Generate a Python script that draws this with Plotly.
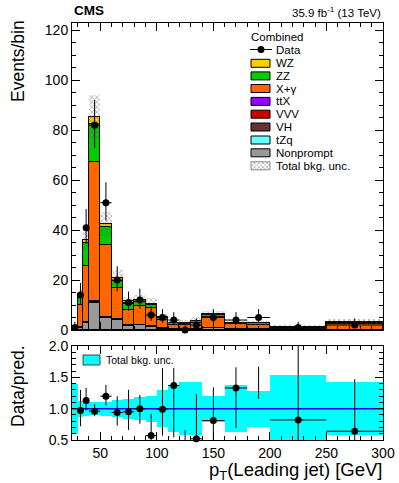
import math
import plotly.graph_objects as go

# ---------------- data ----------------
bin_edges = [25, 30, 35, 40, 50, 60, 70, 80, 90, 100, 110, 120, 130, 140, 160, 180, 200, 250, 300]
data_counts = [1, 14, 41, 82, 51, 20, 11, 12, 6, 5, 4, 0, 2, 5, 4, 5, 1, 2]

nonprompt = [0.1, 1.0, 3.0, 11.0, 5.0, 4.0, 1.8, 2.0, 1.3, 0.5, 0.3, 0.5, 0.3, 0.7, 0.3, 0.2, 0.1, 0.1]
tzq = [0.0, 0.02, 0.05, 0.1, 0.08, 0.05, 0.03, 0.03, 0.03, 0.02, 0.02, 0.02, 0.02, 0.03, 0.02, 0.02, 0.02, 0.02]
vh = [0.0, 0.05, 0.1, 0.2, 0.1, 0.08, 0.05, 0.05, 0.04, 0.03, 0.02, 0.02, 0.02, 0.03, 0.02, 0.02, 0.02, 0.02]
vvv = [0.0, 0.02, 0.05, 0.1, 0.08, 0.05, 0.03, 0.03, 0.03, 0.02, 0.02, 0.02, 0.02, 0.03, 0.02, 0.02, 0.02, 0.02]
ttx = [0.0, 0.05, 0.1, 0.2, 0.15, 0.1, 0.05, 0.05, 0.05, 0.05, 0.03, 0.03, 0.03, 0.05, 0.03, 0.03, 0.03, 0.03]
xgamma = [0.2, 8.9, 22.4, 55.7, 28.6, 12.5, 6.0, 7.3, 7.4, 3.4, 1.8, 1.6, 2.6, 4.5, 2.1, 1.7, 0.05, 2.4]
zz = [0.08, 3.5, 9.3, 15.4, 7.3, 3.0, 2.6, 1.9, 1.1, 0.7, 0.5, 0.4, 0.6, 0.6, 0.35, 0.7, 0.85, 0.35]
wz = [0.02, 0.9, 1.2, 2.8, 1.2, 1.2, 0.9, 0.6, 0.5, 0.35, 0.2, 0.2, 0.2, 0.3, 0.15, 0.2, 0.15, 0.15]

# relative total background uncertainty per bin
bkg_rel_unc = [0.40, 0.13, 0.12, 0.10, 0.11, 0.14, 0.16, 0.18, 0.21, 0.29, 0.38, 0.42, 0.42, 0.21, 0.38, 0.285, 0.54, 0.42]

# ratio panel (data / prediction), read from the lower pad
ratio_val = [None, 0.97, 1.13, 0.96, 1.20, 0.94, 0.95, 1.00, 0.57, 0.99, 1.37, None, 0.52, 0.81, 1.33, None, 0.82, 0.64]
ratio_lo = [None, 0.72, 0.97, 0.88, 1.05, 0.73, 0.66, 0.76, 0.40, 0.57, 0.54, 0.0, 0.30, 0.50, 0.69, 1.16, 0.30, 0.30]
ratio_hi = [None, 1.30, 1.33, 1.07, 1.38, 1.20, 1.30, 1.22, 0.92, 1.65, 1.65, 0.66, 1.23, 1.34, 1.66, 1.67, 2.20, 1.47]

x_tick_vals = [50, 100, 150, 200, 250, 300]
ratio_tick_vals = [0.5, 1.0, 1.5, 2.0]

# ---------------- derived ----------------
centers = [(a + b) / 2 for a, b in zip(bin_edges[:-1], bin_edges[1:])]
widths = [b - a for a, b in zip(bin_edges[:-1], bin_edges[1:])]
half_w = [w / 2 for w in widths]

components = [
    ("Nonprompt", nonprompt, "#999999"),
    ("tZq", tzq, "#66ffff"),
    ("VH", vh, "#663333"),
    ("VVV", vvv, "#cc0000"),
    ("ttX", ttx, "#9900ff"),
    ("X+γ", xgamma, "#ff6600"),
    ("ZZ", zz, "#00cc00"),
    ("WZ", wz, "#ffcc00"),
]
total = [sum(c[1][i] for c in components) for i in range(len(centers))]


def pois_cdf(k, mu):
    s, term = 0.0, math.exp(-mu)
    for i in range(k + 1):
        if i > 0:
            term *= mu / i
        s += term
    return s


def garwood(n, a=0.158655):
    lo_b, hi_b = 0.0, n + 20.0 + 5 * math.sqrt(n + 1)
    for _ in range(200):
        m = (lo_b + hi_b) / 2
        if pois_cdf(n, m) > a:
            lo_b = m
        else:
            hi_b = m
    up = lo_b
    if n == 0:
        return 0.0, up
    lo_b, hi_b = 0.0, float(n)
    for _ in range(200):
        m = (lo_b + hi_b) / 2
        if 1 - pois_cdf(n - 1, m) < a:
            lo_b = m
        else:
            hi_b = m
    return lo_b, up


err_dn, err_up = [], []
for n in data_counts:
    lo, up = garwood(n)
    err_dn.append(n - lo)
    err_up.append(up - n)

# ---------------- geometry ----------------
W, H = 399, 483
L, R, T, B = 72, 383, 23, 440
PW, PH = R - L, B - T
MAIN_BOT, RAT_TOP = 330, 346


def px(xp):
    return (xp - L) / PW


def py(yp):
    return (B - yp) / PH


FONT = "Liberation Sans, Arial, Helvetica, sans-serif"

fig = go.Figure()

# stacked backgrounds
for name, vals, color in components:
    fig.add_trace(go.Bar(
        x=centers, y=vals, width=widths, name=name,
        marker=dict(color=color, line=dict(color="black", width=1)),
        xaxis="x", yaxis="y", showlegend=False, hoverinfo="skip"))

# hatched total uncertainty
fig.add_trace(go.Bar(
    x=centers,
    y=[2 * t * r for t, r in zip(total, bkg_rel_unc)],
    base=[t * (1 - r) for t, r in zip(total, bkg_rel_unc)],
    width=widths,
    marker=dict(color="rgba(0,0,0,0)", line=dict(width=0),
                pattern=dict(shape="x", fgcolor="#555555", bgcolor="rgba(0,0,0,0)", size=3.5, solidity=0.4)),
    xaxis="x", yaxis="y", showlegend=False, hoverinfo="skip"))

# data
fig.add_trace(go.Scatter(
    x=centers, y=data_counts, mode="markers",
    marker=dict(color="black", size=7),
    error_y=dict(type="data", symmetric=False, array=err_up, arrayminus=err_dn,
                 color="black", thickness=1, width=0),
    error_x=dict(type="data", array=half_w, color="black", thickness=1, width=0),
    cliponaxis=False, xaxis="x", yaxis="y", showlegend=False))

# ratio band
fig.add_trace(go.Bar(
    x=centers, y=[2 * r for r in bkg_rel_unc], base=[1 - r for r in bkg_rel_unc],
    width=widths, marker=dict(color="#00ffff", line=dict(width=0)),
    xaxis="x2", yaxis="y2", showlegend=False, hoverinfo="skip"))

# unity line
fig.add_trace(go.Scatter(
    x=[bin_edges[0], bin_edges[-1]], y=[1, 1], mode="lines",
    line=dict(color="#0000ff", width=1.5), xaxis="x2", yaxis="y2", showlegend=False))

# ratio error bars
ex, ey = [], []
for c, hw, v, lo, hi in zip(centers, half_w, ratio_val, ratio_lo, ratio_hi):
    if lo is not None:
        ex += [c, c, None]
        ey += [lo, hi, None]
    if v is not None:
        ex += [c - hw, c + hw, None]
        ey += [v, v, None]
fig.add_trace(go.Scatter(x=ex, y=ey, mode="lines", line=dict(color="black", width=1),
                         xaxis="x2", yaxis="y2", showlegend=False, connectgaps=False))
fig.add_trace(go.Scatter(x=centers, y=ratio_val, mode="markers",
                         marker=dict(color="black", size=7), cliponaxis=False,
                         xaxis="x2", yaxis="y2", showlegend=False))

# ---------------- custom legend (overlay axes in pixel units) ----------------
leg_items = [
    ("WZ", "#ffcc00", 63.3), ("ZZ", "#00cc00", 75.9), ("X+γ", "#ff6600", 88.5),
    ("ttX", "#9900ff", 101.4), ("VVV", "#cc0000", 114.2), ("VH", "#663333", 127.0),
    ("tZq", "#66ffff", 140.0), ("Nonprompt", "#999999", 152.8),
]
annotations = []
for name, color, yc in leg_items:
    fig.add_trace(go.Scatter(
        x=[251, 270, 270, 251, 251], y=[yc - 4, yc - 4, yc + 4, yc + 4, yc - 4],
        mode="lines", fill="toself", fillcolor=color, line=dict(color="black", width=1),
        xaxis="x3", yaxis="y3", showlegend=False, hoverinfo="skip"))
    annotations.append(dict(x=274, y=yc, xref="x3", yref="y3", text=name, showarrow=False,
                            xanchor="left", yanchor="middle", font=dict(size=11.5, color="black", family=FONT)))
# hatched entry
yc = 165.8
fig.add_trace(go.Scatter(
    x=[251, 270, 270, 251, 251], y=[yc - 4, yc - 4, yc + 4, yc + 4, yc - 4],
    mode="lines", fill="toself", fillcolor="rgba(0,0,0,0)",
    fillpattern=dict(shape="x", fgcolor="#555555", bgcolor="white", size=3, solidity=0.4),
    line=dict(color="#888888", width=1), xaxis="x3", yaxis="y3", showlegend=False, hoverinfo="skip"))
annotations.append(dict(x=274, y=yc, xref="x3", yref="y3", text="Total bkg. unc.", showarrow=False,
                        xanchor="left", yanchor="middle", font=dict(size=11.5, color="black", family=FONT)))
# data entry
fig.add_trace(go.Scatter(x=[250, 272], y=[49.5, 49.5], mode="lines", line=dict(color="black", width=1),
                         xaxis="x3", yaxis="y3", showlegend=False, hoverinfo="skip"))
fig.add_trace(go.Scatter(x=[261], y=[49.5], mode="markers", marker=dict(color="black", size=7),
                         xaxis="x3", yaxis="y3", showlegend=False, hoverinfo="skip"))
annotations.append(dict(x=274, y=49.5, xref="x3", yref="y3", text="Data", showarrow=False,
                        xanchor="left", yanchor="middle", font=dict(size=11.5, color="black", family=FONT)))
annotations.append(dict(x=249, y=36.5, xref="x3", yref="y3", text="Combined", showarrow=False,
                        xanchor="left", yanchor="middle", font=dict(size=11.5, color="black", family=FONT)))

# ratio legend
shapes = [dict(type="rect", xref="paper", yref="paper", x0=px(83), x1=px(100), y0=py(365), y1=py(355),
               fillcolor="#00ffff", line=dict(color="#444444", width=1))]
annotations.append(dict(x=px(104), y=py(360), xref="paper", yref="paper", text="Total bkg. unc.",
                        showarrow=False, xanchor="left", yanchor="middle",
                        font=dict(size=10.5, color="black", family=FONT)))

# titles / labels
annotations += [
    dict(x=px(72), y=py(11), xref="paper", yref="paper", text="<b>CMS</b>", showarrow=False,
         xanchor="left", yanchor="middle", font=dict(size=13.5, color="black", family=FONT)),
    dict(x=px(383), y=py(12.5), xref="paper", yref="paper", text="35.9 fb<sup>-1</sup> (13 TeV)",
         showarrow=False, xanchor="right", yanchor="middle", font=dict(size=11.5, color="black", family=FONT)),
    dict(x=px(18), y=py(18), xref="paper", yref="paper", text="Events/bin", textangle=-90,
         showarrow=False, xanchor="center", yanchor="top", font=dict(size=17.5, color="black", family=FONT)),
    dict(x=px(18), y=py(343), xref="paper", yref="paper", text="Data/pred.", textangle=-90,
         showarrow=False, xanchor="center", yanchor="top", font=dict(size=17.5, color="black", family=FONT)),
    dict(x=px(384), y=py(471), xref="paper", yref="paper", text="p<sub>T</sub>(Leading jet) [GeV]",
         showarrow=False, xanchor="right", yanchor="middle", font=dict(size=18.5, color="black", family=FONT)),
]

axis_common = dict(showline=True, linecolor="black", linewidth=1, mirror="ticks", ticks="inside",
                   tickcolor="black", showgrid=False, zeroline=False, automargin=False,
                   tickfont=dict(size=14, color="black", family=FONT))

fig.update_layout(
    width=W, height=H, margin=dict(l=L, r=W - R, t=T, b=H - B, pad=0, autoexpand=False),
    autosize=False,
    paper_bgcolor="white", plot_bgcolor="white", barmode="stack", bargap=0,
    showlegend=False, annotations=annotations, shapes=shapes,
    font=dict(family=FONT, color="black"),
    xaxis=dict(axis_common, domain=[0, 1], anchor="y", range=[bin_edges[0], bin_edges[-1]],
               tickvals=x_tick_vals, ticklen=8, showticklabels=False,
               minor=dict(dtick=10, tick0=0, ticklen=4, ticks="inside", tickcolor="black")),
    yaxis=dict(axis_common, domain=[py(MAIN_BOT), 1], anchor="x", range=[0, 123],
               dtick=20, tick0=0, ticklen=8,
               minor=dict(dtick=5, tick0=0, ticklen=4, ticks="inside", tickcolor="black")),
    xaxis2=dict(axis_common, domain=[0, 1], anchor="y2", range=[bin_edges[0], bin_edges[-1]],
                tickvals=x_tick_vals, ticklen=8,
                minor=dict(dtick=10, tick0=0, ticklen=4, ticks="inside", tickcolor="black")),
    yaxis2=dict(axis_common, domain=[0, py(RAT_TOP)], anchor="x2", range=[0.5, 2.0],
                tickvals=ratio_tick_vals, tickformat=".1f", ticklen=8,
                minor=dict(dtick=0.1, tick0=0, ticklen=4, ticks="inside", tickcolor="black")),
    xaxis3=dict(overlaying="x", anchor="y3", range=[L, R], visible=False, fixedrange=True, automargin=False),
    yaxis3=dict(overlaying="y", anchor="x3", range=[MAIN_BOT, T], visible=False, fixedrange=True, automargin=False),
)

fig.write_html("out.html", config={"displayModeBar": False, "responsive": False},
               post_script="document.body.style.margin='0';document.body.style.overflow='hidden';")
